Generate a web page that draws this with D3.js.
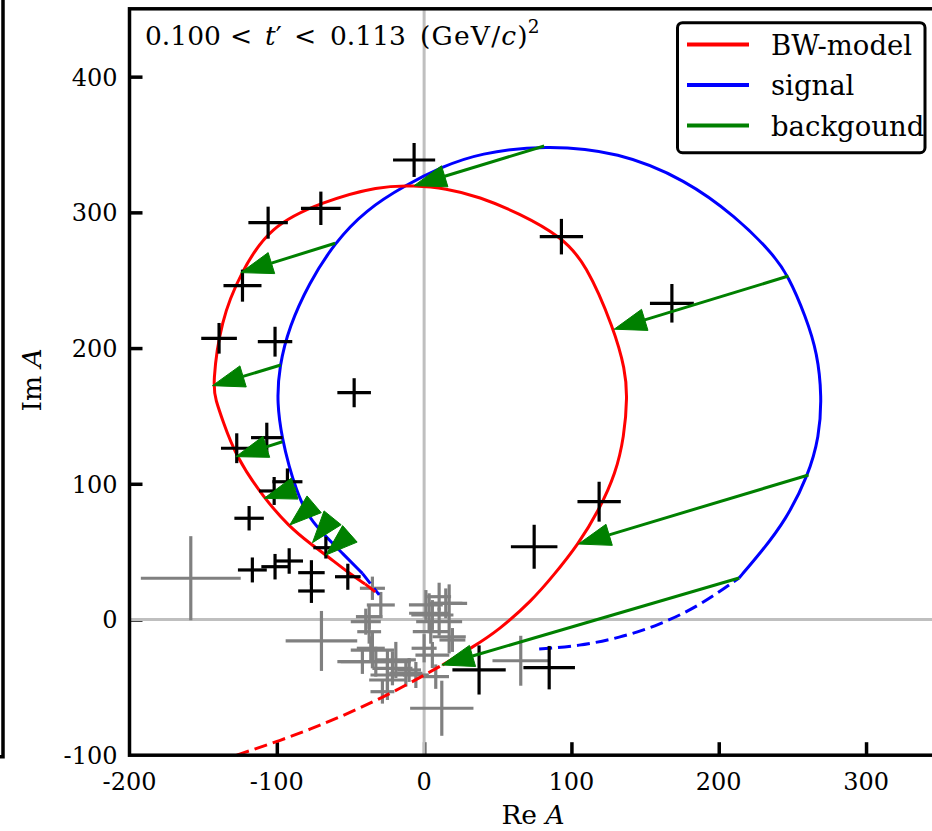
<!DOCTYPE html>
<html>
<head>
<meta charset="utf-8">
<script src="https://cdn.jsdelivr.net/npm/d3@7/dist/d3.min.js"></script>
<style>
  body { margin: 0; background: #fff; }
  svg { display: block; }
  text { font-family: "DejaVu Serif", "Liberation Serif", serif; fill: #000; }
</style>
</head>
<body>
<svg id="chart" width="932" height="831"></svg>
<script>
// Axis ticks
const xTicks = [-200, -100, 0, 100, 200, 300];
const yTicks = [-100, 0, 100, 200, 300, 400];

// BW-model amplitude (Re, Im): dashed below the fit range, solid inside it, dashed tail
const modelLow = [[-127.2, -99.9], [-97.8, -89.3], [-70.7, -78.1], [-43.5, -65.4],
  [-16.4, -51.0], [12.4, -33.5]];
const modelFit = [[12.4, -33.5], [32.8, -20.5], [50.9, -7.7], [73.5, 14.4], [87.1, 31.5],
  [104.8, 55.6], [118.8, 80.7], [130.1, 107.7], [135.8, 134.7], [138.0, 164.2],
  [136.5, 183.9], [129.0, 213.9], [109.8, 262.5], [93.2, 282.1], [64.5, 299.3],
  [37.3, 311.6], [14.7, 317.8], [-6.8, 319.7], [-30.5, 319.5], [-69.0, 307.9],
  [-105.2, 289.5], [-124.4, 255.6], [-138.0, 220.7], [-143.7, 172.3], [-141.4, 161.7],
  [-136.9, 147.0], [-127.8, 120.0], [-108.6, 89.3], [-91.6, 68.4], [-76.9, 55.6],
  [-66.7, 47.5], [-50.9, 34.0], [-40.1, 26.2]];
const modelHigh = [[-40.1, 26.2], [-30.5, 18.1]];

// Signal amplitude (Re, Im)
const signalLow = [[78.1, -21.7], [105.2, -19.5], [132.4, -13.6], [159.5, -4.1],
  [186.7, 9.9], [213.8, 30.6]];
const signalFit = [[213.8, 30.6], [228.8, 49.7], [245.6, 73.3], [260.9, 106.5],
  [268.2, 134.7], [270.0, 164.2], [267.0, 196.2], [259.1, 223.1], [247.3, 253.1],
  [236.5, 269.9], [211.6, 296.8], [177.7, 323.9], [132.4, 344.7], [81.5, 349.7],
  [37.3, 343.5], [12.4, 333.7], [-12.4, 320.2], [-39.6, 301.8], [-61.1, 277.2],
  [-78.1, 247.8], [-91.6, 215.8], [-98.4, 186.3], [-100.0, 159.3], [-96.2, 132.3],
  [-91.6, 112.6], [-87.1, 96.7], [-80.3, 78.3], [-69.0, 63.5], [-55.5, 48.8],
  [-41.9, 34.0]];
const signalHigh = [[-41.9, 34.0], [-30.5, 18.1]];

// Background vectors: from signal point (Re, Im) to model point (Re, Im)
const bgArrows = [
  [81.5, 348.9, -6.8, 319.7], [-60.4, 277.2, -124.4, 255.6], [-97.3, 187.5, -143.7, 172.3],
  [-96.2, 131.0, -127.8, 120.0], [-87.1, 96.7, -108.6, 89.3], [-80.8, 79.2, -91.2, 69.6],
  [-69.9, 64.5, -75.8, 56.6], [-59.7, 54.2, -66.7, 47.5], [247.3, 253.1, 129.0, 213.9],
  [260.9, 106.5, 104.8, 55.6], [213.8, 30.6, 12.0, -33.5]];

// Measured amplitudes in the fit range: [Re, Im, errRe, errIm]
const pointsFit = [
  [-6.8, 338.6, 14.3, 12.5], [-70.1, 303.0, 13.5, 12.3], [-105.9, 292.4, 13.4, 11.8],
  [-123.3, 246.0, 12.9, 11.8], [-139.2, 207.2, 12.1, 11.3], [-101.2, 204.7, 11.7, 11.0],
  [-47.5, 167.1, 11.4, 10.7], [93.2, 282.1, 14.7, 13.1], [168.2, 233.0, 14.9, 14.2],
  [118.8, 86.8, 14.7, 14.7], [74.7, 53.6, 15.8, 16.2], [37.3, -37.2, 18.1, 18.1],
  [84.9, -35.5, 17.5, 16.0], [-127.2, 126.2, 10.7, 11.0], [-106.8, 134.0, 10.7, 11.0],
  [-92.8, 101.5, 10.2, 9.8], [-101.8, 94.7, 10.2, 10.3], [-118.8, 74.6, 10.0, 9.0],
  [-66.7, 52.9, 8.5, 8.0], [-116.6, 36.5, 9.8, 9.2], [-101.2, 38.9, 9.3, 9.4],
  [-91.6, 43.1, 9.4, 9.4], [-76.5, 34.5, 9.0, 9.2], [-76.5, 21.0, 9.0, 8.8],
  [-51.8, 31.5, 8.7, 9.6]];

// Measured amplitudes outside the fit range: [Re, Im, errRe, errIm]
const pointsOut = [
  [-35.1, 23.0, 8.5, 8.6], [-29.4, 10.7, 9.5, 9.6], [-39.6, -1.6, 10.2, 9.6],
  [-37.3, -9.0, 8.1, 8.8], [-36.2, -21.2, 9.5, 8.8], [-32.8, -31.1, 23.8, 11.0],
  [-19.2, -29.8, 13.6, 13.3], [-24.9, -40.9, 11.5, 18.4], [-28.3, -53.2, 8.1, 8.8],
  [-10.2, -37.2, 8.1, 8.8], [-5.6, -40.9, 8.8, 9.6], [12.0, -65.4, 21.5, 20.3],
  [1.2, 10.7, 11.5, 11.0], [17.0, 11.9, 12.2, 14.0], [5.6, 3.3, 14.3, 11.0],
  [10.2, -1.6, 15.6, 10.3], [4.5, -9.0, 12.2, 8.8], [19.2, -15.1, 8.8, 8.8],
  [5.6, -26.2, 11.5, 9.6], [10.2, 16.8, 8.1, 10.3], [-69.7, -15.8, 24.3, 22.1],
  [-158.4, 30.4, 33.9, 31.0], [65.6, -30.4, 19.2, 18.4], [-41.9, -31.1, 17.0, 9.0],
  [-21.5, -36.0, 13.6, 12.5], [-24.9, -44.6, 12.4, 12.3], [-12.4, -39.6, 11.3, 9.8],
  [7.9, -42.1, 9.0, 9.0], [3.4, 4.6, 13.6, 14.7], [14.7, 11.9, 11.3, 11.0],
  [17.0, -12.7, 11.3, 12.3], [-35.1, -22.5, 14.7, 13.5], [-37.3, 2.1, 9.0, 9.0],
  [0.0, -21.2, 8.5, 10.4]];

const legendItems = [
  { label: "BW-model", color: "#ff0000" },
  { label: "signal", color: "#0000ff" },
  { label: "backgound", color: "#008000" }];

const svg = d3.select("#chart");

const x = d3.scaleLinear().domain([-200, 350]).range([129.5, 939.7]);
const y = d3.scaleLinear().domain([-100, 450]).range([755.2, 8.8]);
const plotLeft = x.range()[0], plotRight = x.range()[1];
const plotBottom = y.range()[0], plotTop = y.range()[1];

// Edge of the neighbouring panel
svg.append("path").attr("d", `M3,0V${plotBottom + 1.5}H0`)
  .attr("fill", "none").attr("stroke", "#000").attr("stroke-width", 3.5);

// Inward ticks drawn by d3 axes
const tickLen = 13;
const xAxis = svg.append("g").attr("transform", `translate(0,${plotBottom})`)
  .call(d3.axisTop(x).tickValues(xTicks.slice(1)).tickSize(tickLen).tickFormat(""));
const yAxis = svg.append("g").attr("transform", `translate(${plotLeft},0)`)
  .call(d3.axisRight(y).tickValues(yTicks.slice(1)).tickSize(tickLen).tickFormat(""));
[xAxis, yAxis].forEach(g => {
  g.select(".domain").remove();
  g.selectAll("line").attr("stroke", "#000").attr("stroke-width", 3.5);
});

// Tick labels
svg.append("g").selectAll("text").data(xTicks).join("text")
  .attr("x", d => x(d)).attr("y", plotBottom + 35)
  .attr("text-anchor", "middle").attr("font-size", 24)
  .text(d => String(d));
svg.append("g").selectAll("text").data(yTicks).join("text")
  .attr("x", plotLeft - 12).attr("y", d => y(d) + 9)
  .attr("text-anchor", "end").attr("font-size", 24)
  .text(d => String(d));

// Zero lines
svg.append("line").attr("x1", x(0)).attr("x2", x(0)).attr("y1", plotTop).attr("y2", plotBottom)
  .attr("stroke", "#bfbfbf").attr("stroke-width", 3);
svg.append("line").attr("x1", plotLeft).attr("x2", plotRight).attr("y1", y(0)).attr("y2", y(0))
  .attr("stroke", "#bfbfbf").attr("stroke-width", 3);

const plot = svg.append("g");

function crosses(data, color) {
  const g = plot.append("g").attr("stroke", color).attr("stroke-width", 3.2);
  data.forEach(([re, im, dre, dim]) => {
    g.append("line").attr("x1", x(re - dre)).attr("x2", x(re + dre))
      .attr("y1", y(im)).attr("y2", y(im));
    g.append("line").attr("x1", x(re)).attr("x2", x(re))
      .attr("y1", y(im - dim)).attr("y2", y(im + dim));
  });
}

const line = d3.line().x(d => x(d[0])).y(d => y(d[1])).curve(d3.curveBasis);
function curve(pts, color, dashed) {
  plot.append("path").attr("d", line(pts)).attr("fill", "none")
    .attr("stroke", color).attr("stroke-width", 3)
    .attr("stroke-dasharray", dashed ? "13,6" : null);
}

crosses(pointsOut, "#808080");
curve(signalLow, "#0000ff", true);
curve(signalFit, "#0000ff", false);
curve(signalHigh, "#0000ff", true);
curve(modelLow, "#ff0000", true);
curve(modelFit, "#ff0000", false);
curve(modelHigh, "#ff0000", true);
crosses(pointsFit, "#000000");

// Background arrows with fixed-size heads at the model end
const headLen = 32, headHalf = 11;
const ag = plot.append("g");
bgArrows.forEach(([r0, i0, r1, i1]) => {
  const x0 = x(r0), y0 = y(i0), x1 = x(r1), y1 = y(i1);
  const L = Math.hypot(x1 - x0, y1 - y0), ux = (x1 - x0) / L, uy = (y1 - y0) / L;
  const bx = x1 - ux * headLen, by = y1 - uy * headLen;
  if (L > headLen) {
    ag.append("line").attr("x1", x0).attr("y1", y0).attr("x2", bx).attr("y2", by)
      .attr("stroke", "#008000").attr("stroke-width", 3);
  }
  ag.append("polygon")
    .attr("points", [[x1, y1], [bx - uy * headHalf, by + ux * headHalf],
      [bx + uy * headHalf, by - ux * headHalf]].map(p => p.join(",")).join(" "))
    .attr("fill", "#008000").attr("stroke", "#008000").attr("stroke-width", 1);
});

// Frame
svg.append("rect").attr("x", plotLeft).attr("y", plotTop)
  .attr("width", plotRight - plotLeft).attr("height", plotBottom - plotTop)
  .attr("fill", "none").attr("stroke", "#000").attr("stroke-width", 3.5);

// Axis titles
const xl = svg.append("text").attr("x", 533).attr("y", 824)
  .attr("text-anchor", "middle").attr("font-size", 26.5);
xl.append("tspan").text("Re ");
xl.append("tspan").attr("font-style", "italic").text("A");
const yl = svg.append("text").attr("transform", "translate(41,380) rotate(-90)")
  .attr("text-anchor", "middle").attr("font-size", 26.5);
yl.append("tspan").text("Im ");
yl.append("tspan").attr("font-style", "italic").text("A");

// Bin title, pieces placed with math spacing
const tt = svg.append("text").attr("y", 45).attr("font-size", 26.5);
tt.append("tspan").attr("x", 145).text("0.100");
tt.append("tspan").attr("x", 230).text("<");
tt.append("tspan").attr("x", 265).attr("font-style", "italic").text("t");
tt.append("tspan").text("′");
tt.append("tspan").attr("x", 294).text("<");
tt.append("tspan").attr("x", 330).text("0.113");
tt.append("tspan").attr("x", 420).attr("letter-spacing", 1.2).text("(GeV/");
tt.append("tspan").attr("font-style", "italic").attr("letter-spacing", 1.2).text("c");
tt.append("tspan").text(")");
tt.append("tspan").attr("font-size", 18.5).attr("dy", -12).text("2");

// Legend
const lg = svg.append("g");
lg.append("rect").attr("x", 677.5).attr("y", 22.7).attr("width", 247.5).attr("height", 130)
  .attr("rx", 5).attr("fill", "#fff").attr("stroke", "#000").attr("stroke-width", 3);
legendItems.forEach((d, i) => {
  const cy = 44.5 + i * 40.5;
  lg.append("line").attr("x1", 687).attr("x2", 749).attr("y1", cy).attr("y2", cy)
    .attr("stroke", d.color).attr("stroke-width", 4);
  lg.append("text").attr("x", 771).attr("y", cy + 10).attr("font-size", 27.5).text(d.label);
});
</script>
</body>
</html>
